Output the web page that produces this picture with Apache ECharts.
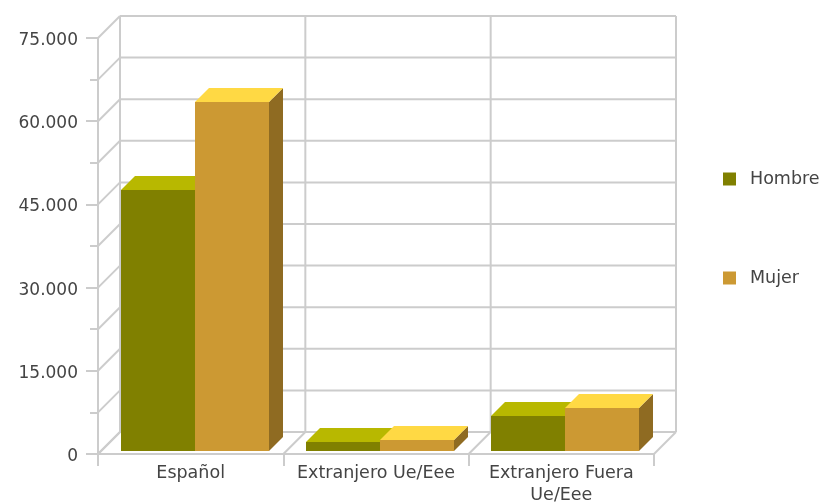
<!DOCTYPE html>
<html>
<head>
<meta charset="utf-8">
<style>
html,body{margin:0;padding:0;background:#fff}
#main{width:823px;height:504px}
</style>
<script src="https://cdn.jsdelivr.net/npm/echarts@6/dist/echarts.min.js"></script>
</head>
<body>
<div id="main"></div>
<script>
var categories = ['Español', 'Extranjero Ue/Eee', 'Extranjero Fuera Ue/Eee'];
var hombre = [47050, 1620, 6300];
var mujer = [62900, 2000, 7800];
var wallTicks = [0, 7500, 15000, 22500, 30000, 37500, 45000, 52500, 60000, 67500, 75000];

var WALL = 22;      // profundidad de la pared
var GAP_X = 4;      // hueco entre el eje y la barra
var GAP_Y = 3;
var DEPTH = 14;     // profundidad de la barra
var BAR = 0.4;      // ancho de barra sobre la categoria
var LINE = { stroke: '#cccccc', lineWidth: 2 };

function line(x1, y1, x2, y2) {
    return { type: 'line', shape: { x1: x1, y1: y1, x2: x2, y2: y2 }, style: LINE, silent: true };
}

// lineas horizontales del fondo + diagonal izquierda
function renderWallY(params, api) {
    var n = categories.length;
    var left = api.coord([0, api.value(0)]);
    var band = api.size([1, 0])[0];
    var x0 = left[0] - band / 2;
    var x1 = x0 + band * n;
    var y = left[1];
    var children = [
        line(x0, y, x0 + WALL, y - WALL),
        line(x0 + WALL, y - WALL, x1 + WALL, y - WALL)
    ];
    return { type: 'group', children: children };
}

// verticales del fondo + diagonal del suelo
function renderWallX(params, api) {
    var bottom = api.coord([0, 0]);
    var top = api.coord([0, wallTicks[wallTicks.length - 1]]);
    var band = api.size([1, 0])[0];
    var x = bottom[0] - band / 2 + band * api.value(0);
    return {
        type: 'group',
        children: [
            line(x, bottom[1], x + WALL, bottom[1] - WALL),
            line(x + WALL, bottom[1] - WALL, x + WALL, top[1] - WALL)
        ]
    };
}

function poly(points, color) {
    return { type: 'polygon', shape: { points: points }, style: { fill: color } };
}

function bar3d(offset, front, topColor, sideColor) {
    return function (params, api) {
        var p = api.coord([api.value(0), api.value(1)]);
        var base = api.coord([api.value(0), 0]);
        var w = api.size([1, 0])[0] * BAR;
        var x0 = Math.round(p[0] + offset * w + GAP_X);
        var x1 = Math.round(p[0] + (offset + 1) * w + GAP_X);
        var yt = Math.round(p[1]) - GAP_Y;
        var yb = Math.round(base[1]) - GAP_Y;
        return {
            type: 'group',
            children: [
                poly([[x1, yt], [x1 + DEPTH, yt - DEPTH], [x1 + DEPTH, yb - DEPTH], [x1, yb]], sideColor),
                poly([[x0, yt], [x0 + DEPTH, yt - DEPTH], [x1 + DEPTH, yt - DEPTH], [x1, yt]], topColor),
                poly([[x0, yt], [x1, yt], [x1, yb], [x0, yb]], front)
            ]
        };
    };
}

var myChart = echarts.init(document.getElementById('main'), null, { renderer: 'canvas' });
var font = '"DejaVu Sans", sans-serif';

myChart.setOption({
    animation: false,
    backgroundColor: '#fff',
    textStyle: { fontFamily: font },
    grid: { left: 98, right: 169, top: 38, bottom: 50, outerBoundsMode: 'none' },
    legend: {
        data: ['Hombre', 'Mujer'],
        orient: 'vertical',
        left: 723,
        top: 170,
        padding: 0,
        itemWidth: 13,
        itemHeight: 13,
        itemGap: 81,
        icon: 'rect',
        selectedMode: false,
        textStyle: { color: '#444', fontSize: 17.5, lineHeight: 17, fontFamily: font, padding: [0, 0, 0, 9] }
    },
    xAxis: {
        type: 'category',
        data: categories,
        axisLine: { show: true, lineStyle: { color: '#cccccc', width: 2 } },
        axisTick: { show: true, length: 12, lineStyle: { color: '#cccccc', width: 2 } },
        axisLabel: {
            color: '#444', fontSize: 17.5, fontFamily: font, margin: 8,
            lineHeight: 22, interval: 0,
            formatter: function (v) { return v.length > 18 ? v.replace(' Ue/', '\nUe/') : v; }
        },
        splitLine: { show: false }
    },
    yAxis: {
        type: 'value',
        min: 0,
        max: 75000,
        interval: 15000,
        axisLine: { show: true, lineStyle: { color: '#cccccc', width: 2 } },
        axisTick: { show: true, length: 12, lineStyle: { color: '#cccccc', width: 2 } },
        minorTick: { show: true, splitNumber: 2, length: 8, lineStyle: { color: '#cccccc', width: 2 } },
        axisLabel: {
            color: '#444', fontSize: 17, fontFamily: font, margin: 20,
            verticalAlign: 'top', lineHeight: 5,
            formatter: function (v) { return String(v).replace(/\B(?=(\d{3})+$)/g, '.'); }
        },
        splitLine: { show: false }
    },
    series: [
        {
            type: 'custom', name: 'wallY', silent: true, clip: false, z: 1,
            renderItem: renderWallY,
            encode: { x: 1, y: 0 },
            data: wallTicks.map(function (t) { return [t, 0]; })
        },
        {
            type: 'custom', name: 'wallX', silent: true, clip: false, z: 1,
            renderItem: renderWallX,
            encode: { x: 1, y: 2 },
            data: [0, 1, 2, 3].map(function (i) { return [i, 0, 0]; })
        },
        {
            type: 'custom', name: 'Hombre', clip: false, z: 3,
            itemStyle: { color: '#808000' },
            renderItem: bar3d(-1, '#808000', '#b8b800', '#5c5c00'),
            encode: { x: 0, y: 1 },
            data: hombre.map(function (v, i) { return [i, v]; })
        },
        {
            type: 'custom', name: 'Mujer', clip: false, z: 4,
            itemStyle: { color: '#cc9933' },
            renderItem: bar3d(0, '#cc9933', '#ffd944', '#8f6b22'),
            encode: { x: 0, y: 1 },
            data: mujer.map(function (v, i) { return [i, v]; })
        }
    ]
});
</script>
</body>
</html>
